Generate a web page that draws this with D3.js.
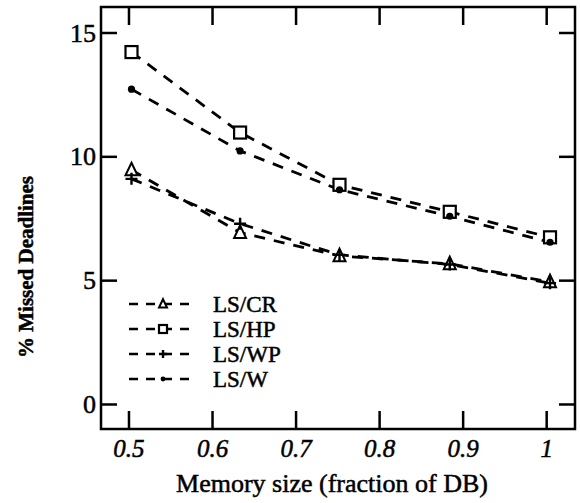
<!DOCTYPE html>
<html><head><meta charset="utf-8">
<script src="https://cdn.jsdelivr.net/npm/d3@7"></script>
<style>body{margin:0;background:#fff}svg{display:block}text{font-family:"Liberation Serif","Times New Roman",serif;fill:#000;stroke:#000;stroke-width:0.5px}</style>
</head><body>
<svg id="c" width="580" height="503"></svg>
<script>
const memSize = [0.503, 0.633, 0.752, 0.884, 1.004];
const seriesNames = ["LS/CR", "LS/HP", "LS/WP", "LS/W"];
const lsCR = [9.47, 6.94, 6.0, 5.68, 4.95];
const lsHP = [14.23, 10.98, 8.87, 7.78, 6.75];
const lsWP = [9.11, 7.30, 6.04, 5.65, 4.9];
const lsW  = [12.73, 10.24, 8.67, 7.60, 6.55];
const markerTypes = ["triangle", "square", "plus", "dot"];
const xTicks = [0.5, 0.6, 0.7, 0.8, 0.9, 1];
const xTickLabels = ["0.5", "0.6", "0.7", "0.8", "0.9", "1"];
const yTicks = [0, 5, 10, 15];
const yTickLabels = ["0", "5", "10", "15"];

const series = [lsCR, lsHP, lsWP, lsW];
const svg = d3.select("#c");
const L = 101, R = 575, T = 7, B = 429;
const x = d3.scaleLinear().domain([0.4665, 1.0339]).range([L, R]);
const y = d3.scaleLinear().domain([-0.99, 16.05]).range([B, T]);

// frame
svg.append("rect").attr("x", L).attr("y", T).attr("width", R - L).attr("height", B - T)
  .attr("fill", "none").attr("stroke", "#000").attr("stroke-width", 2.5);

// ticks (inward, all sides)
const tk = svg.append("g").attr("stroke", "#000").attr("stroke-width", 2.5);
xTicks.forEach(v => {
  tk.append("line").attr("x1", x(v)).attr("x2", x(v)).attr("y1", B).attr("y2", B - 18);
  tk.append("line").attr("x1", x(v)).attr("x2", x(v)).attr("y1", T).attr("y2", T + 18);
});
yTicks.forEach(v => {
  tk.append("line").attr("x1", L).attr("x2", L + 16).attr("y1", y(v)).attr("y2", y(v));
  tk.append("line").attr("x1", R).attr("x2", R - 16).attr("y1", y(v)).attr("y2", y(v));
});

// tick labels
xTicks.forEach((v, i) => {
  svg.append("text").attr("x", x(v)).attr("y", 457).attr("text-anchor", "middle")
    .attr("font-size", 25).attr("font-style", "italic").text(xTickLabels[i]);
});
yTicks.forEach((v, i) => {
  svg.append("text").attr("x", 96).attr("y", y(v) + 8.5).attr("text-anchor", "end")
    .attr("font-size", 26).text(yTickLabels[i]);
});

// axis titles
svg.append("text").attr("x", 332).attr("y", 492).attr("text-anchor", "middle")
  .attr("font-size", 26).text("Memory size (fraction of DB)");
svg.append("text").attr("transform", "translate(33,267) rotate(-90)").attr("text-anchor", "middle")
  .attr("font-size", 21).attr("font-weight", "bold").text("% Missed Deadlines");

function marker(g, type, cx, cy, s) {
  if (type === "triangle") {
    g.append("path").attr("d", `M${cx},${cy - s * 0.6}L${cx + s * 0.5},${cy + s * 0.45}L${cx - s * 0.5},${cy + s * 0.45}Z`)
      .attr("fill", "#fff").attr("stroke", "#000").attr("stroke-width", 2);
  } else if (type === "square") {
    g.append("rect").attr("x", cx - s / 2).attr("y", cy - s / 2).attr("width", s).attr("height", s)
      .attr("fill", "#fff").attr("stroke", "#000").attr("stroke-width", 2.2);
  } else if (type === "plus") {
    g.append("path").attr("d", `M${cx - s / 2},${cy}H${cx + s / 2}M${cx},${cy - s / 2}V${cy + s / 2}`)
      .attr("stroke", "#000").attr("stroke-width", 2.4).attr("fill", "none");
  } else {
    g.append("circle").attr("cx", cx).attr("cy", cy).attr("r", s * 0.3).attr("fill", "#000");
  }
}

const line = d3.line().x(d => x(d[0])).y(d => y(d[1]));
const plot = svg.append("g");
series.forEach((vals, si) => {
  const pts = memSize.map((m, i) => [m, vals[i]]);
  plot.append("path").attr("d", line(pts)).attr("fill", "none").attr("stroke", "#000")
    .attr("stroke-width", 2.8).attr("stroke-dasharray", "11,9");
});
series.forEach((vals, si) => {
  memSize.forEach((m, i) => marker(plot, markerTypes[si], x(m), y(vals[i]), 12));
});

// legend
const legY0 = 304, legStep = 25;
seriesNames.forEach((n, i) => {
  const yy = legY0 + i * legStep;
  const g = svg.append("g");
  g.append("line").attr("x1", 129).attr("x2", 197).attr("y1", yy).attr("y2", yy)
    .attr("stroke", "#000").attr("stroke-width", 2.5).attr("stroke-dasharray", "9,8");
  marker(g, markerTypes[i], 163, yy, 8);
  svg.append("text").attr("x", 213).attr("y", yy + 8).attr("font-size", 23).text(n);
});
</script>
</body></html>
